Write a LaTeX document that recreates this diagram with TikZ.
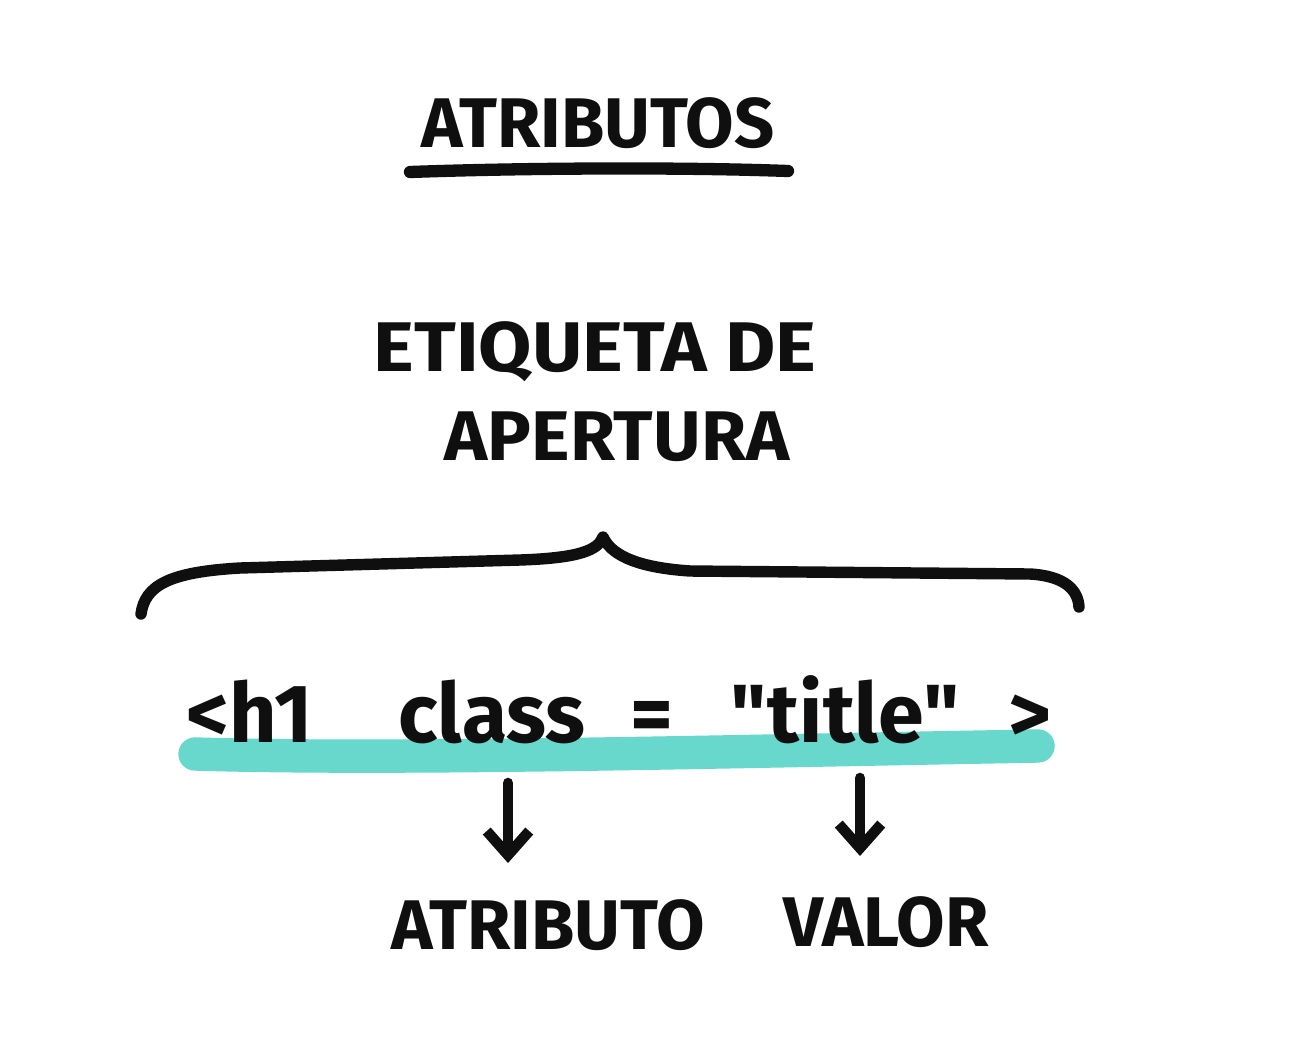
\documentclass[tikz,border=0pt]{standalone}
\usepackage{fontspec}
\setmainfont{Fira Sans}[Ligatures=TeXOff]
\usetikzlibrary{arrows.meta,positioning}
\definecolor{ink}{RGB}{15,15,15}
\definecolor{marker}{RGB}{96,214,203}
\newcommand{\dq}{\symbol{34}}
\tikzset{
  capsbig/.style={font=\fontsize{40}{40}\selectfont\bfseries, text=ink, inner sep=0pt},
  capsmid/.style={font=\fontsize{40}{40}\selectfont\bfseries, text=ink, inner sep=0pt},
  codetxt/.style={font=\fontsize{47}{47}\selectfont\bfseries, text=ink, inner sep=0pt, anchor=base},
  pen/.style={ink, line width=6.5pt, line cap=round, line join=round},
  hilite/.style={marker, line width=19pt, line cap=round, opacity=0.95},
  darr/.style={ink, line width=6pt, line cap=round,
    -{Straight Barb[length=4.8mm, width=8.5mm, line width=6pt]}},
}
\begin{document}
\begin{tikzpicture}[x=0.02cm, y=0.02cm]
  \useasboundingbox (0,0) rectangle (1296,-1046);
  \fill[white] (0,0) rectangle (1296,-1046);
  % title
  \node[capsbig] (ttl) at (598,-123) {ATRIBUTOS};
  \draw[pen, line width=7pt] (410,-172) .. controls (520,-168) and (680,-167) .. (788,-171);
  % opening tag label
  \node[capsmid] (lbl1) at (595,-352) {\scalebox{1.1}[1]{ETIQUETA DE}};
  \node[capsmid] (lbl2) at (617,-437) {\scalebox{1.04}[1]{APERTURA}};
  % brace
  \draw[pen] (141,-614) .. controls (145,-585) and (170,-572) .. (240,-568)
    -- (520,-560) .. controls (580,-558) and (598,-550) .. (603,-537)
    .. controls (610,-552) and (630,-567) .. (690,-571)
    -- (1030,-574) .. controls (1065,-576) and (1078,-590) .. (1079,-607);
  % marker under the code
  \draw[hilite] (195,-754) .. controls (400,-760) and (700,-752) .. (1038,-746);
  % code line
  \node[codetxt] (lt) at (250,-742) {<h1};
  \node[codetxt] (cls) at (492,-742) {class};
  \node[codetxt] (eq) at (652,-742) {=};
  \node[codetxt] (val) at (845,-742) {\dq title\dq};
  \node[codetxt] (gt) at (1030,-742) {>};
  % labels below
  \node[capsmid] (attr) at (548,-925) {ATRIBUTO};
  \node[capsmid] (valr) at (886,-922) {VALOR};
  \coordinate (a1) at (508,-783);
  \coordinate (a2) at (860,-778);
  \draw[darr] (a1) -- (a1 |- 0,-863);
  \draw[darr] (a2) -- (a2 |- 0,-856);
\end{tikzpicture}
\end{document}
